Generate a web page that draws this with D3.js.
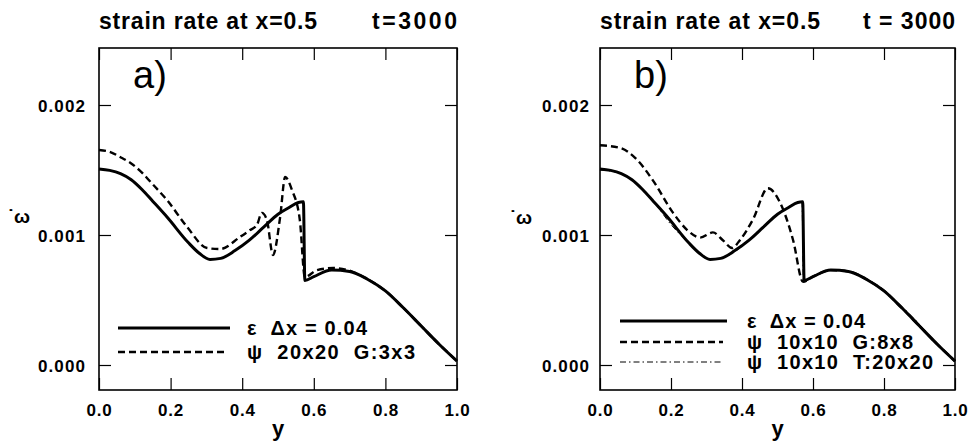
<!DOCTYPE html>
<html><head><meta charset="utf-8">
<script src="https://cdn.jsdelivr.net/npm/d3@7"></script>
<style>body{margin:0;background:#fff} svg{display:block} .pre{white-space:pre}</style>
</head><body><svg id="c" width="974" height="443"></svg>
<script>
// ---------- data ----------
const xTicks = [0, 0.2, 0.4, 0.6, 0.8, 1.0];
const yTicks = [0.000, 0.001, 0.002];

// epsilon, dx = 0.04 (solid, both panels)
const epsX = [0, 0.03, 0.06, 0.09, 0.12, 0.15, 0.19, 0.25, 0.28, 0.31, 0.34, 0.38, 0.42, 0.46, 0.5, 0.53, 0.557, 0.571, 0.575, 0.6, 0.65, 0.7, 0.75, 0.8, 0.85, 0.9, 0.95, 1.0];
const epsV = [0.001508, 0.001497, 0.001472, 0.001425, 0.00135, 0.00126, 0.001138, 0.00094, 0.00086, 0.000812, 0.00082, 0.00088, 0.00096, 0.00106, 0.00116, 0.00121, 0.00125, 0.001255, 0.00065, 0.00068, 0.00073, 0.00072, 0.00066, 0.00057, 0.00044, 0.00030, 0.00016, 0.00003];

// panel a: psi 20x20 G:3x3 (dashed)
const psiAX = [0, 0.03, 0.059, 0.09, 0.12, 0.15, 0.19, 0.246, 0.302, 0.338, 0.394, 0.422, 0.441, 0.455, 0.469, 0.486, 0.506, 0.52, 0.539, 0.561, 0.575, 0.609, 0.654, 0.7, 0.75, 0.8, 0.85, 0.9, 0.95, 1.0];
const psiAV = [0.001654, 0.00164, 0.0016, 0.00155, 0.00148, 0.00139, 0.001269, 0.001062, 0.0009, 0.000892, 0.000985, 0.001038, 0.001077, 0.00117, 0.001115, 0.000846, 0.001138, 0.001446, 0.001346, 0.001115, 0.000677, 0.00073, 0.000746, 0.000725, 0.00066, 0.00057, 0.00044, 0.00030, 0.00016, 0.00003];

// panel b: psi 10x10 G:8x8 (dashed)
const psiBX = [0, 0.056, 0.104, 0.149, 0.206, 0.245, 0.282, 0.318, 0.346, 0.372, 0.394, 0.431, 0.473, 0.507, 0.544, 0.572, 0.6, 0.65, 0.7, 0.75, 0.8, 0.85, 0.9, 0.95, 1.0];
const psiBV = [0.00169, 0.00167, 0.00158, 0.00142, 0.00117, 0.00104, 0.00098, 0.00102, 0.00096, 0.0009, 0.00096, 0.00112, 0.00136, 0.00125, 0.00096, 0.00064, 0.00068, 0.00073, 0.00072, 0.00066, 0.00057, 0.00044, 0.00030, 0.00016, 0.00003];

// panel b: psi 10x10 T:20x20 (dash-dot, lies on the solid curve)
const psiTX = [0, 0.05, 0.1, 0.15, 0.2, 0.25, 0.31, 0.36, 0.42, 0.47, 0.51, 0.55, 0.569, 0.573, 0.6, 0.66, 0.74, 0.8, 0.88, 0.95, 1.0];
const psiTV = [0.0015, 0.00148, 0.0014, 0.00126, 0.00108, 0.00094, 0.00081, 0.00084, 0.00096, 0.00109, 0.00118, 0.00124, 0.00125, 0.00064, 0.00068, 0.00073, 0.00068, 0.00057, 0.00037, 0.00016, 0.00003];

const legendA = ["ε  Δx = 0.04", "ψ  20x20  G:3x3"];
const legendB = ["ε  Δx = 0.04", "ψ  10x10  G:8x8", "ψ  10x10  T:20x20"];

// ---------- drawing ----------
const svg = d3.select("#c");
const FONT = "'Liberation Sans', Arial, Helvetica, sans-serif";
const pTop = 48, pBottom = 390;

const panels = [
  { left: 99, right: 457, label: "a)", tLeft: "strain rate at x=0.5", tRight: "t=3000",
    tLeftW: 218, tRightW: 85, yLabEnd: 86, omega: [19, 217],
    series: [
      { x: epsX, v: epsV, w: 3, dash: null },
      { x: psiAX, v: psiAV, w: 2.4, dash: "7,4" }
    ],
    legend: legendA,
    leg: { x0: 118, x1: 230, tx: 247, rows: [328, 352], ends: [367, 415] }
  },
  { left: 600, right: 955, label: "b)", tLeft: "strain rate at x=0.5", tRight: "t = 3000",
    tLeftW: 220, tRightW: 92, yLabEnd: 590, omega: [521, 218],
    series: [
      { x: epsX, v: epsV, w: 3, dash: null },
      { x: psiBX, v: psiBV, w: 2.4, dash: "7,4" },
      { x: psiTX, v: psiTV, w: 1, dash: "6,3,1.5,3" }
    ],
    legend: legendB,
    leg: { x0: 620, x1: 727, tx: 747, rows: [321, 342, 362], ends: [865, 913, 933] }
  }
];

panels.forEach(p => {
  const x = d3.scaleLinear().domain([0, 1]).range([p.left, p.right]);
  const y = d3.scaleLinear().domain([-25 / 130000, 317 / 130000]).range([pBottom, pTop]);
  const g = svg.append("g");

  // title
  g.append("text").attr("x", p.left).attr("y", 29).text(p.tLeft)
    .attr("font-family", FONT).attr("font-weight", "bold").attr("font-size", 23)
    .attr("textLength", p.tLeftW).attr("lengthAdjust", "spacing");
  g.append("text").attr("x", p.right - p.tRightW).attr("y", 29).text(p.tRight)
    .attr("class", "pre")
    .attr("font-family", FONT).attr("font-weight", "bold").attr("font-size", 23)
    .attr("textLength", p.tRightW).attr("lengthAdjust", "spacing");

  // frame
  g.append("rect").attr("x", p.left).attr("y", pTop)
    .attr("width", p.right - p.left).attr("height", pBottom - pTop)
    .attr("fill", "none").attr("stroke", "#000").attr("stroke-width", 1.6);

  // axes with inward ticks
  const axB = d3.axisBottom(x).tickValues(xTicks).tickSize(-12).tickFormat(d3.format(".1f"));
  const axT = d3.axisTop(x).tickValues(xTicks).tickSize(-12).tickFormat("");
  const axL = d3.axisLeft(y).tickValues(yTicks).tickSize(-12).tickFormat(d3.format(".3f"));
  const axR = d3.axisRight(y).tickValues(yTicks).tickSize(-12).tickFormat("");

  const gb = g.append("g").attr("transform", `translate(0,${pBottom})`).call(axB);
  g.append("g").attr("transform", `translate(0,${pTop})`).call(axT);
  const gl = g.append("g").attr("transform", `translate(${p.left},0)`).call(axL);
  g.append("g").attr("transform", `translate(${p.right},0)`).call(axR);
  g.selectAll(".domain").remove();
  g.selectAll(".tick line").attr("stroke", "#000").attr("stroke-width", 1.2);

  gb.selectAll("text").attr("font-family", FONT).attr("font-weight", "bold")
    .attr("font-size", 17).attr("fill", "#000").attr("letter-spacing", 0.8)
    .attr("dy", null).attr("y", 26);
  gl.selectAll("text").attr("font-family", FONT).attr("font-weight", "bold")
    .attr("font-size", 17).attr("fill", "#000").attr("letter-spacing", 1.1)
    .attr("x", p.yLabEnd - p.left).attr("dy", "0.36em");

  // axis titles
  g.append("text").attr("x", x(0.5)).attr("y", 436).attr("text-anchor", "middle")
    .attr("font-family", FONT).attr("font-weight", "bold").attr("font-size", 22).text("y");
  g.append("text").attr("x", p.omega[0]).attr("y", p.omega[1])
    .attr("text-anchor", "middle").attr("dy", "0.3em")
    .attr("font-family", FONT).attr("font-weight", "bold").attr("font-size", 19).text("˙ω");

  // panel label
  g.append("text").attr("x", p.left + 34).attr("y", 88)
    .attr("font-family", FONT).attr("font-size", 38).text(p.label);

  // curves
  const line = d3.line().x(d => x(d[0])).y(d => y(d[1])).curve(d3.curveMonotoneX);
  p.series.slice().reverse().forEach(s => {
    const pts = s.x.map((xv, i) => [xv, s.v[i]]);
    g.append("path").datum(pts).attr("d", line).attr("fill", "none")
      .attr("stroke", "#000").attr("stroke-width", s.w)
      .attr("stroke-dasharray", s.dash).attr("stroke-linejoin", "round");
  });

  // legend
  p.series.forEach((s, i) => {
    const ry = p.leg.rows[i];
    g.append("line").attr("x1", p.leg.x0).attr("x2", i === 0 ? p.leg.x1 : p.leg.x1 - 4)
      .attr("y1", ry).attr("y2", ry).attr("stroke", "#000").attr("stroke-width", s.w)
      .attr("stroke-dasharray", s.dash);
    g.append("text").attr("class", "pre").attr("x", p.leg.tx).attr("y", ry).attr("dy", "0.36em")
      .attr("font-family", FONT).attr("font-weight", "bold").attr("font-size", 20)
      .attr("textLength", p.leg.ends[i] - p.leg.tx).attr("lengthAdjust", "spacing")
      .text(p.legend[i]);
  });
});
</script></body></html>
